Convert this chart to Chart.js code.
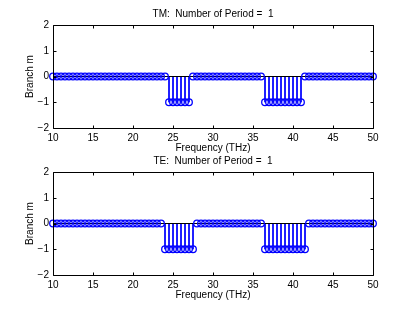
<!DOCTYPE html>
<html>
<head>
<meta charset="utf-8">
<title>Branch m vs Frequency</title>
<script src="https://cdn.jsdelivr.net/npm/chart.js@4"></script>
<style>
  html, body { margin: 0; padding: 0; background: #fff; }
  #wrap { position: relative; width: 411px; height: 309px; }
  canvas { position: absolute; left: 0; }
  #tmChart { top: 0; }
  #teChart { top: 155px; }
</style>
</head>
<body>
<div id="wrap">
  <canvas id="tmChart" width="411" height="155"></canvas>
  <canvas id="teChart" width="411" height="154"></canvas>
</div>
<script>
// sampled frequencies (THz)
const freq = [
  10, 10.5, 11, 11.5, 12, 12.5, 13, 13.5, 14, 14.5,
  15, 15.5, 16, 16.5, 17, 17.5, 18, 18.5, 19, 19.5,
  20, 20.5, 21, 21.5, 22, 22.5, 23, 23.5, 24, 24.5,
  25, 25.5, 26, 26.5, 27, 27.5, 28, 28.5, 29, 29.5,
  30, 30.5, 31, 31.5, 32, 32.5, 33, 33.5, 34, 34.5,
  35, 35.5, 36, 36.5, 37, 37.5, 38, 38.5, 39, 39.5,
  40, 40.5, 41, 41.5, 42, 42.5, 43, 43.5, 44, 44.5,
  45, 45.5, 46, 46.5, 47, 47.5, 48, 48.5, 49, 49.5,
  50
];

// branch index for TM
const tmBranch = [
  0, 0, 0, 0, 0, 0, 0, 0, 0, 0,
  0, 0, 0, 0, 0, 0, 0, 0, 0, 0,
  0, 0, 0, 0, 0, 0, 0, 0, 0, -1,
  -1, -1, -1, -1, -1, 0, 0, 0, 0, 0,
  0, 0, 0, 0, 0, 0, 0, 0, 0, 0,
  0, 0, 0, -1, -1, -1, -1, -1, -1, -1,
  -1, -1, -1, 0, 0, 0, 0, 0, 0, 0,
  0, 0, 0, 0, 0, 0, 0, 0, 0, 0,
  0
];

// branch index for TE
const teBranch = [
  0, 0, 0, 0, 0, 0, 0, 0, 0, 0,
  0, 0, 0, 0, 0, 0, 0, 0, 0, 0,
  0, 0, 0, 0, 0, 0, 0, 0, -1, -1,
  -1, -1, -1, -1, -1, -1, 0, 0, 0, 0,
  0, 0, 0, 0, 0, 0, 0, 0, 0, 0,
  0, 0, 0, -1, -1, -1, -1, -1, -1, -1,
  -1, -1, -1, -1, 0, 0, 0, 0, 0, 0,
  0, 0, 0, 0, 0, 0, 0, 0, 0, 0,
  0
];

const xTicks = [10, 15, 20, 25, 30, 35, 40, 45, 50];
const yTicks = [-2, -1, 0, 1, 2];

const FONT = 'Liberation Sans, Arial, Helvetica, sans-serif';
const BLUE = 'rgb(0,0,255)';

// box round the plot plus inward ticks, matlab style
const boxTicks = {
  id: 'boxTicks',
  afterDatasetsDraw(chart) {
    const { ctx, chartArea: a, scales: { x, y } } = chart;
    const L = Math.round(a.left) + 0.5, R = Math.round(a.right) + 0.5;
    const T = Math.round(a.top) + 0.5, B = Math.round(a.bottom) + 0.5;
    ctx.save();
    ctx.strokeStyle = '#000';
    ctx.lineWidth = 1;
    ctx.beginPath();
    xTicks.forEach(v => {
      const px = Math.round(x.getPixelForValue(v)) + 0.5;
      ctx.moveTo(px, B); ctx.lineTo(px, B - 3);
      ctx.moveTo(px, T); ctx.lineTo(px, T + 3);
    });
    yTicks.forEach(v => {
      const py = Math.round(y.getPixelForValue(v)) + 0.5;
      ctx.moveTo(L, py); ctx.lineTo(L + 3, py);
      ctx.moveTo(R, py); ctx.lineTo(R - 3, py);
    });
    ctx.rect(L, T, R - L, B - T);
    ctx.stroke();
    ctx.restore();
  }
};

function stemData(values) {
  const out = [];
  freq.forEach((f, i) => {
    if (values[i] !== 0) {
      out.push({ x: f, y: 0 }, { x: f, y: values[i] }, { x: f, y: null });
    }
  });
  return out;
}

function makeChart(id, title, values, opt) {
  const ctx = document.getElementById(id).getContext('2d');
  return new Chart(ctx, {
    type: 'scatter',
    data: {
      datasets: [
        {
          // markers
          data: freq.map((f, i) => ({ x: f, y: values[i] })),
          showLine: false,
          pointStyle: 'circle',
          pointRadius: 3.3,
          pointBorderWidth: 1.3,
          pointBorderColor: BLUE,
          pointBackgroundColor: 'rgba(0,0,0,0)',
          clip: false,
          order: 1
        },
        {
          // baseline
          data: [{ x: freq[0], y: 0 }, { x: freq[freq.length - 1], y: 0 }],
          showLine: true,
          borderColor: '#000',
          borderWidth: 1.2,
          pointRadius: 0,
          order: 2
        },
        {
          // stems
          data: stemData(values),
          showLine: true,
          spanGaps: false,
          borderColor: BLUE,
          borderWidth: 1,
          pointRadius: 0,
          order: 3
        }
      ]
    },
    options: {
      responsive: false,
      animation: false,
      devicePixelRatio: 1,
      layout: { padding: { left: 0, right: 38, top: 0, bottom: 0 } },
      plugins: {
        legend: { display: false },
        tooltip: { enabled: false },
        title: {
          display: true,
          fullSize: false,
          text: title,
          color: '#000',
          font: { family: FONT, size: 10, weight: 'normal' },
          padding: { top: opt.titleTop, bottom: 5 }
        }
      },
      scales: {
        x: {
          type: 'linear',
          min: 10, max: 50,
          afterBuildTicks: s => { s.ticks = xTicks.map(v => ({ value: v })); },
          afterFit: s => { s.height = opt.xHeight; },
          grid: { display: false, drawTicks: false },
          border: { display: false },
          ticks: {
            color: '#000', padding: 4, maxRotation: 0,
            font: { family: FONT, size: 10 }
          },
          title: {
            display: true, text: 'Frequency (THz)', color: '#000',
            font: { family: FONT, size: 10 },
            padding: { top: 0, bottom: opt.xTitleBottom }
          }
        },
        y: {
          type: 'linear',
          min: -2, max: 2,
          afterBuildTicks: s => { s.ticks = yTicks.map(v => ({ value: v })); },
          afterFit: s => { s.width = 53; },
          grid: { display: false, drawTicks: false },
          border: { display: false },
          ticks: {
            color: '#000', padding: 4,
            font: { family: FONT, size: 10 },
            callback: v => String(v).replace('-', '\u2212')
          },
          title: {
            display: true, text: 'Branch m', color: '#000',
            font: { family: FONT, size: 10 },
            padding: { top: 24, bottom: 0 }
          }
        }
      }
    },
    plugins: [boxTicks]
  });
}

makeChart('tmChart', 'TM:  Number of Period =  1', tmBranch,
  { titleTop: 8, xHeight: 27, xTitleBottom: 1 });
makeChart('teChart', 'TE:  Number of Period =  1', teBranch,
  { titleTop: 0, xHeight: 34, xTitleBottom: 8 });
</script>
</body>
</html>
